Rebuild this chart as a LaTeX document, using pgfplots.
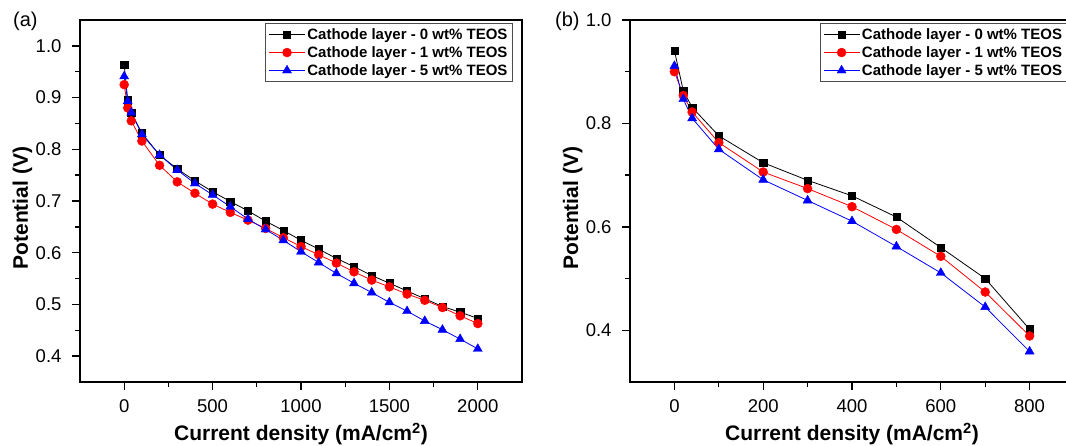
\documentclass[border=0pt]{standalone}
\usepackage{fontspec}
\setmainfont{Liberation Sans}
\usepackage{pgfplots}
\pgfplotsset{compat=1.18}

\pgfplotstableread{
x y
0 0.963
20 0.895
40 0.871
100 0.831
200 0.789
300 0.762
400 0.739
500 0.718
600 0.699
700 0.681
800 0.661
900 0.643
1000 0.624
1100 0.607
1200 0.589
1300 0.573
1400 0.556
1500 0.541
1600 0.526
1700 0.511
1800 0.496
1900 0.485
2000 0.473
}\aBlack
\pgfplotstableread{
x y
0 0.925
20 0.880
40 0.855
100 0.816
200 0.769
300 0.737
400 0.715
500 0.694
600 0.678
700 0.663
800 0.647
900 0.629
1000 0.612
1100 0.596
1200 0.580
1300 0.563
1400 0.547
1500 0.534
1600 0.520
1700 0.508
1800 0.494
1900 0.478
2000 0.463
}\aRed
\pgfplotstableread{
x y
0 0.941
20 0.893
40 0.871
100 0.829
200 0.789
300 0.760
400 0.734
500 0.712
600 0.689
700 0.665
800 0.645
900 0.624
1000 0.602
1100 0.581
1200 0.560
1300 0.541
1400 0.523
1500 0.504
1600 0.487
1700 0.468
1800 0.451
1900 0.433
2000 0.414
}\aBlue
\pgfplotstableread{
x y
0 0.941
20 0.863
40 0.831
100 0.776
200 0.724
300 0.690
400 0.660
500 0.619
600 0.560
700 0.500
800 0.402
}\bBlack
\pgfplotstableread{
x y
0 0.900
20 0.854
40 0.822
100 0.763
200 0.706
300 0.674
400 0.639
500 0.595
600 0.543
700 0.474
800 0.389
}\bRed
\pgfplotstableread{
x y
0 0.911
20 0.847
40 0.810
100 0.750
200 0.691
300 0.651
400 0.611
500 0.562
600 0.511
700 0.445
800 0.359
}\bBlue

\pgfplotsset{
  mystyle/.style={
    scale only axis,
    height=362pt,
    axis line style={line width=1.5pt},
    tick align=outside,
    tick pos=left,
    major tick length=8pt,
    minor tick length=5pt,
    every tick/.style={black, line width=1.3pt},
    minor tick num=1,
    ticklabel style={font=\fontsize{18.5}{20}\selectfont},
    /pgf/number format/assume math mode=true,
    scaled ticks=false,
    xticklabel style={/pgf/number format/1000 sep={}, yshift=-6pt},
    yticklabel style={/pgf/number format/fixed, /pgf/number format/fixed zerofill, /pgf/number format/precision=1, xshift=-7pt},
    every axis x label/.style={at={([yshift=-59pt]axis description cs:0.5,0)}, anchor=base, font=\fontsize{21}{24}\selectfont\bfseries},
    every axis y label/.style={at={([xshift=-52pt]axis description cs:0,0.48)}, rotate=90, anchor=base, font=\fontsize{21}{24}\selectfont\bfseries},
    legend style={anchor=north west, draw=black!70, line width=1.2pt, font=\fontsize{15}{17}\selectfont\bfseries, inner sep=3pt, row sep=1.5pt},
    legend cell align=left,
    legend image code/.code={\draw[mark repeat=2,mark phase=2] plot coordinates {(0pt,0pt) (18pt,0pt) (36pt,0pt)};},
    xlabel={Current density (mA/cm\textsuperscript{2})},
    ylabel={Potential (V)},
  },
  sBlack/.style={black, line width=0.8pt, mark=square*, mark size=3.6pt, mark options={solid, line width=0.4pt}},
  sRed/.style={red, line width=0.8pt, mark=*, mark size=4.5pt, mark options={solid, line width=0.4pt}},
  sBlue/.style={blue, line width=0.8pt, mark=triangle*, mark size=5.2pt, mark options={solid, line width=0.4pt}},
}

\begin{document}
\begin{tikzpicture}[x=1pt,y=1pt]
\useasboundingbox (0,0) rectangle (1066,446);
\clip (0,0) rectangle (1066,446);

\begin{axis}[mystyle, at={(80pt,64pt)}, anchor=south west, width=442pt,
  xmin=-250, xmax=2250, ymin=0.35, ymax=1.05,
  xtick={0,500,1000,1500,2000},
  ytick={0.4,0.5,0.6,0.7,0.8,0.9,1.0},
  legend style={at={(axis description cs:0.4186,0.992)}}]
\addplot[sBlack] table[x=x,y=y]{\aBlack};
\addlegendentry{Cathode layer - 0 wt\% TEOS}
\addplot[sRed] table[x=x,y=y]{\aRed};
\addlegendentry{Cathode layer - 1 wt\% TEOS}
\addplot[sBlue] table[x=x,y=y]{\aBlue};
\addlegendentry{Cathode layer - 5 wt\% TEOS}
\end{axis}

\begin{axis}[mystyle, at={(630pt,64pt)}, anchor=south west, width=444pt,
  xmin=-100, xmax=900, ymin=0.3, ymax=1.0,
  xtick={0,200,400,600,800},
  ytick={0.4,0.6,0.8,1.0},
  legend style={at={(axis description cs:0.427,0.992)}}]
\addplot[sBlack] table[x=x,y=y]{\bBlack};
\addlegendentry{Cathode layer - 0 wt\% TEOS}
\addplot[sRed] table[x=x,y=y]{\bRed};
\addlegendentry{Cathode layer - 1 wt\% TEOS}
\addplot[sBlue] table[x=x,y=y]{\bBlue};
\addlegendentry{Cathode layer - 5 wt\% TEOS}
\end{axis}

\node[anchor=base west, inner sep=0pt, font=\fontsize{20}{22}\selectfont] at (13,419) {(a)};
\node[anchor=base west, inner sep=0pt, font=\fontsize{20}{22}\selectfont] at (555,419) {(b)};
\end{tikzpicture}
\end{document}
